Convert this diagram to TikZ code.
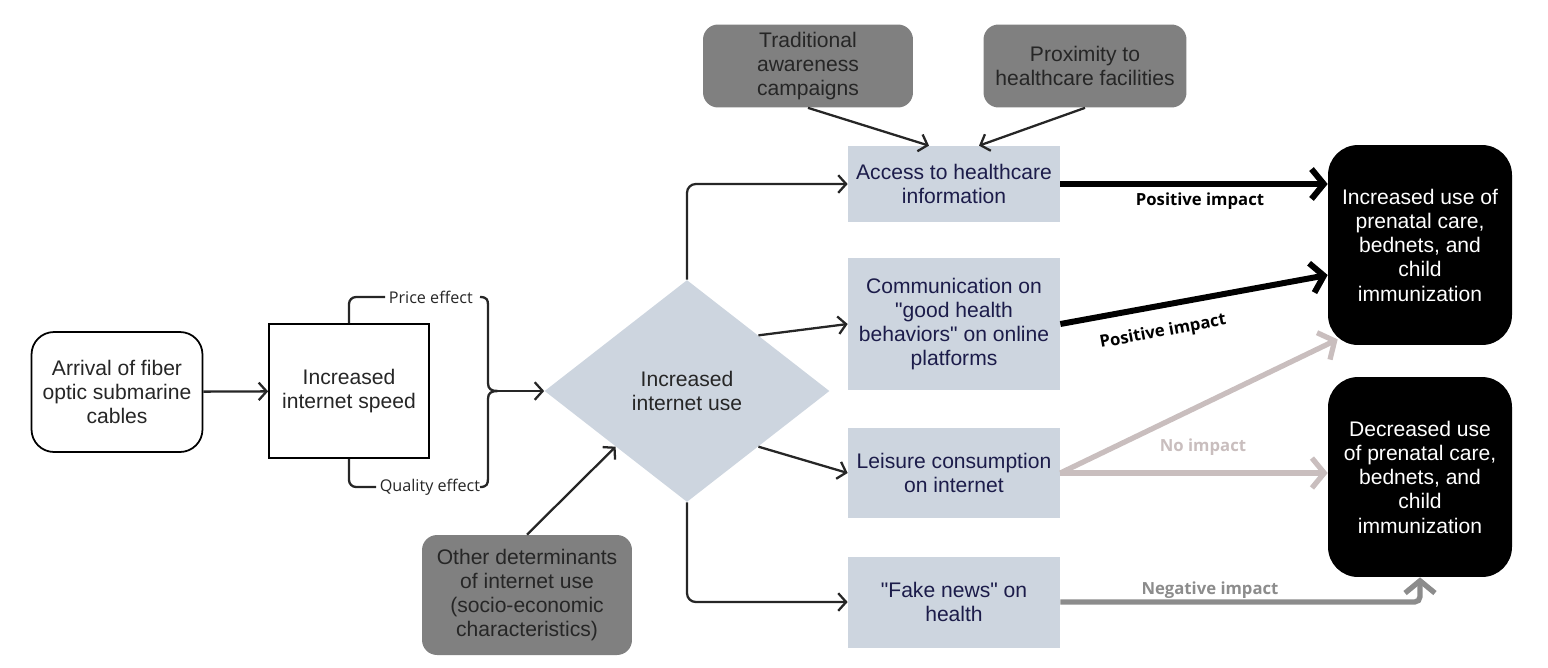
\documentclass[tikz,border=0pt]{standalone}
\usepackage{fontspec}
\setmainfont{Liberation Sans}[Ligatures=TeXOff]
\newfontfamily\lblfont{Open Sans}
\usetikzlibrary{shapes.geometric,arrows.meta,calc}
\definecolor{boxblue}{HTML}{CDD5DF}
\definecolor{boxgray}{HTML}{808080}
\definecolor{navy}{HTML}{1C1C4A}
\definecolor{ink}{HTML}{262626}
\definecolor{noimp}{HTML}{C9BEBE}
\definecolor{negimp}{HTML}{8C8C8C}

\begin{document}
\begin{tikzpicture}[x=0.02cm, y=-0.02cm,
        txt/.style={align=center, font=\fontsize{12}{13.8}\selectfont, text=ink},
        lbox/.style={txt, rectangle, fill=boxblue, text=navy, minimum width=4.24cm, inner sep=0pt},
        gbox/.style={txt, rectangle, rounded corners=0.3cm, fill=boxgray, minimum width=4.2cm, inner sep=0pt},
        kbox/.style={txt, rectangle, rounded corners=0.6cm, fill=black, text=white,
            minimum width=3.68cm, minimum height=4cm, inner sep=0pt},
        link/.style={draw=ink, line width=1.3pt, -{Straight Barb[length=4.5pt,width=10pt]}},
        heavy/.style={line width=3.4pt, -{Straight Barb[length=7pt,width=17pt]}},
        effect/.style={font=\lblfont\fontsize{9.2}{11}\selectfont, text=ink, inner sep=2pt},
        impact/.style={font=\lblfont\bfseries\fontsize{9.5}{11}\selectfont}]
\useasboundingbox (0,0) rectangle (1548,667);

\node[txt, draw=black, line width=1pt, rounded corners=0.45cm, minimum width=3.42cm,
    minimum height=2.4cm] (fiber) at (117,392) {Arrival of fiber\\optic submarine\\cables};
\node[txt, draw=black, line width=1pt, minimum width=3.2cm, minimum height=2.68cm]
    (speed) at (349,391) {Increased\\internet speed};
\node[effect, anchor=west] (price) at (385,297) {Price effect};
\node[effect, anchor=west] (quality) at (376,487) {Quality effect};

\node[txt, diamond, fill=boxblue, minimum width=5.7cm, minimum height=4.44cm, inner sep=0pt]
    (use) at (687,391) {Increased\\internet use};

\node[lbox, minimum height=1.52cm] (access) at (954,184) {Access to healthcare\\information};
\node[lbox, minimum height=2.64cm] (comm) at (954,324) {Communication on\\"good health\\behaviors" on online\\platforms};
\node[lbox, minimum height=1.8cm] (leisure) at (954,473) {Leisure consumption\\on internet};
\node[lbox, minimum height=1.82cm] (fake) at (954,602) {"Fake news" on\\health};

\node[gbox, minimum height=1.66cm] (trad) at (808,66) {Traditional\\awareness\\campaigns};
\node[gbox, minimum width=4.06cm, minimum height=1.66cm] (prox) at (1085,66) {Proximity to\\healthcare facilities};
\node[gbox, minimum height=2.4cm] (other) at (527,595) {Other determinants\\of internet use\\(socio-economic\\characteristics)};

\node[kbox] (incr) at (1420,245) {Increased use of\\prenatal care,\\bednets, and\\child\\immunization};
\node[kbox] (decr) at (1420,477) {Decreased use\\of prenatal care,\\bednets, and\\child\\immunization};

% speed effects and brace
\draw[link] (fiber) -- (speed);
\draw[ink, line width=1.3pt, rounded corners=4pt] (speed.north) |- (price.west);
\draw[ink, line width=1.3pt, rounded corners=4pt] (speed.south) |- (quality.west);
\draw[ink, line width=1.3pt] (480,297) .. controls (487,297) and (488,300) .. (488,305) -- (488,383)
    .. controls (488,389) and (491,391) .. (498,391) .. controls (491,391) and (488,393) .. (488,399)
    -- (488,478) .. controls (488,484) and (487,487) .. (480,487);
\coordinate (tip) at (498,391);
\draw[link] (tip) -- (use.west);
\draw[link] (other.north) -- (use.south west);

% channels
\draw[link, rounded corners=5pt] (use.north) |- (access.west);
\draw[link] (use.north east) -- (comm.west);
\draw[link] (use.south east) -- (leisure.west);
\draw[link, rounded corners=5pt] (use.south) |- (fake.west);
\draw[link] (trad.south) -- ([xshift=-0.5cm]access.north);
\draw[link] (prox.south) -- ([xshift=0.5cm]access.north);

% impacts
\draw[heavy] (access.east) -- (access.east -| incr.west);
\draw[heavy] (comm.east) -- ([yshift=-0.6cm]incr.west);
\draw[heavy, noimp, line width=3pt] (leisure.east) -- ($(incr.south west)+(10,-6)$);
\draw[heavy, noimp, line width=3pt] (leisure.east) -- (leisure.east -| decr.west);
\draw[heavy, negimp, line width=3pt, rounded corners=3pt] (fake.east) -| (decr.south);

\node[impact] (pos1) at (1200,201) {Positive impact};
\node[impact, rotate=10.5] (pos2) at (1163,332) {Positive impact};
\node[impact, text=noimp] (none) at (1203,447) {No impact};
\node[impact, text=negimp] (neg) at (1210,590) {Negative impact};

\end{tikzpicture}
\end{document}
